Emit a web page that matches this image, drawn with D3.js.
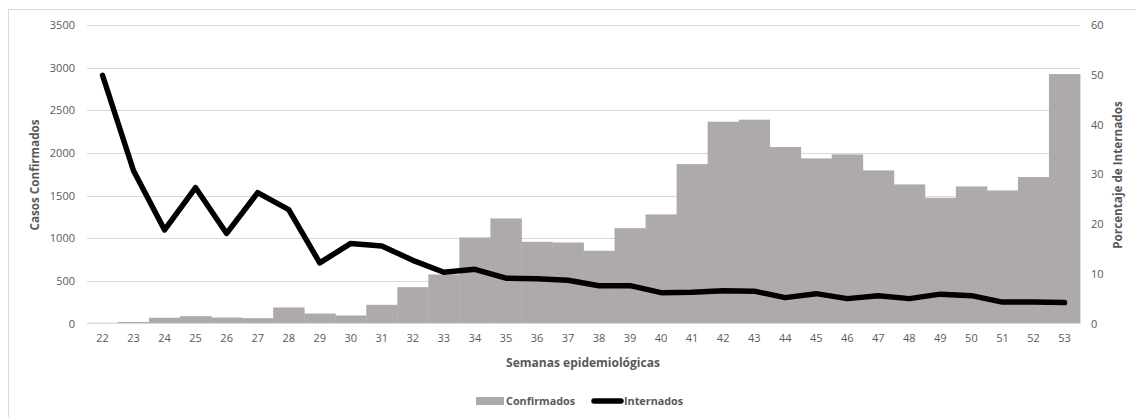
<!DOCTYPE html>
<html>
<head>
<meta charset="utf-8">
<script src="https://cdn.jsdelivr.net/npm/d3@7"></script>
<style>
  html, body { margin: 0; padding: 0; background: #fff; }
  svg { display: block; }
  text { font-family: "Open Sans", "Liberation Sans", sans-serif; fill: #595959; }
</style>
</head>
<body>
<svg id="chart" width="1136" height="417"></svg>
<script>
const semanas = ["22","23","24","25","26","27","28","29","30","31","32","33","34","35","36","37","38","39","40","41","42","43","44","45","46","47","48","49","50","51","52","53"];
const confirmados = [8,18,68,86,70,63,188,117,94,219,426,575,1009,1232,958,950,853,1118,1279,1869,2366,2390,2069,1936,1983,1795,1631,1474,1607,1560,1717,2925];
const internados = [49.9,30.7,18.8,27.3,18.1,26.3,22.9,12.2,16.1,15.6,12.7,10.3,10.9,9.1,9.0,8.7,7.6,7.6,6.2,6.3,6.6,6.5,5.2,6.0,5.0,5.6,5.0,5.9,5.6,4.3,4.3,4.2];
const leftTicks = [0,500,1000,1500,2000,2500,3000,3500];
const rightTicks = [0,10,20,30,40,50,60];

const svg = d3.select("#chart");
const m = {left: 87, right: 1080, top: 25, bottom: 323.5};
const txt = "#595959";

// outer frame
svg.append("rect").attr("x", 8.5).attr("y", 9.5).attr("width", 1140).attr("height", 420)
  .attr("fill", "none").attr("stroke", "#d9d9d9").attr("stroke-width", 1);

const x = d3.scaleBand().domain(semanas).range([m.left, m.right]).paddingInner(0).paddingOuter(0);
const yL = d3.scaleLinear().domain([0, 3500]).range([m.bottom, m.top]);
const yR = d3.scaleLinear().domain([0, 60]).range([m.bottom, m.top]);

// gridlines
svg.append("g").selectAll("line").data(leftTicks.filter(d => d > 0)).join("line")
  .attr("x1", m.left).attr("x2", m.right)
  .attr("y1", d => Math.round(yL(d)) + 0.5).attr("y2", d => Math.round(yL(d)) + 0.5)
  .attr("stroke", "#d9d9d9").attr("stroke-width", 1);

// bars
svg.append("g").selectAll("rect").data(confirmados).join("rect")
  .attr("x", (d, i) => x(semanas[i]))
  .attr("width", x.bandwidth() + 0.4)
  .attr("y", d => yL(d))
  .attr("height", d => yL(0) - yL(d))
  .attr("fill", "#aeaaaa");

// baseline
svg.append("line").attr("x1", m.left).attr("x2", m.right)
  .attr("y1", yL(0)).attr("y2", yL(0)).attr("stroke", "#d9d9d9").attr("stroke-width", 1);

// line
const line = d3.line().x((d, i) => x(semanas[i]) + x.bandwidth() / 2).y(d => yR(d));
svg.append("path").datum(internados).attr("d", line)
  .attr("fill", "none").attr("stroke", "#000").attr("stroke-width", 5.5)
  .attr("stroke-linejoin", "round").attr("stroke-linecap", "round");

function styleAxis(g) {
  g.select(".domain").remove();
  g.attr("color", txt);
  g.selectAll("text").attr("font-size", "11px").style("font-family", "'Open Sans', sans-serif").style("fill", txt);
}

// left axis
svg.append("g").attr("transform", `translate(${m.left - 12},0)`)
  .call(d3.axisLeft(yL).tickValues(leftTicks).tickFormat(d3.format("d")).tickSize(0).tickPadding(0))
  .call(styleAxis);

// right axis
svg.append("g").attr("transform", `translate(${m.right + 11},0)`)
  .call(d3.axisRight(yR).tickValues(rightTicks).tickFormat(d3.format("d")).tickSize(0).tickPadding(0))
  .call(styleAxis);

// x axis
svg.append("g").attr("transform", `translate(0,${m.bottom + 11})`)
  .call(d3.axisBottom(x).tickSize(0).tickPadding(0))
  .call(styleAxis)
  .selectAll("text").attr("dy", "0.71em");

// axis titles
svg.append("text").attr("transform", "translate(39,175) rotate(-90)")
  .attr("text-anchor", "middle").attr("font-size", "11.7px").attr("font-weight", "bold")
  .text("Casos Confirmados");
svg.append("text").attr("transform", "translate(1122,175) rotate(-90)")
  .attr("text-anchor", "middle").attr("font-size", "11.7px").attr("font-weight", "bold")
  .text("Porcentaje de Internados");
svg.append("text").attr("x", 583).attr("y", 367)
  .attr("text-anchor", "middle").attr("font-size", "12px").attr("font-weight", "bold")
  .text("Semanas epidemiológicas");

// legend
const leg = svg.append("g");
leg.append("rect").attr("x", 476).attr("y", 397).attr("width", 28).attr("height", 8).attr("fill", "#aeaaaa");
leg.append("text").attr("x", 506).attr("y", 405).attr("font-size", "10.8px").attr("font-weight", "bold").text("Confirmados");
leg.append("line").attr("x1", 594).attr("x2", 621).attr("y1", 401).attr("y2", 401)
  .attr("stroke", "#000").attr("stroke-width", 5.5).attr("stroke-linecap", "round");
leg.append("text").attr("x", 624).attr("y", 405).attr("font-size", "10.8px").attr("font-weight", "bold").text("Internados");
</script>
</body>
</html>
